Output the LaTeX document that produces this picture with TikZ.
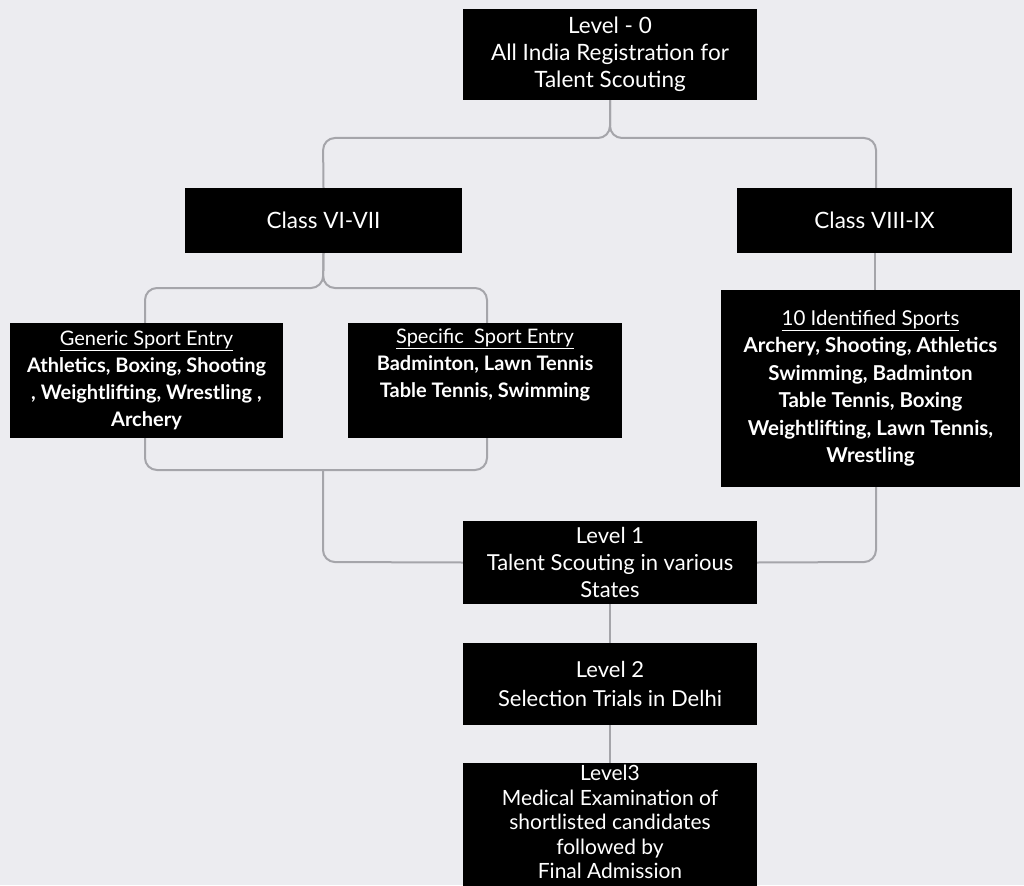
\documentclass[tikz,border=0pt]{standalone}
\usepackage{fontspec}
\setmainfont{Lato}
\usetikzlibrary{backgrounds}
\definecolor{paper}{RGB}{236,236,240}
\definecolor{linkgray}{RGB}{165,165,170}
\begin{document}
\begin{tikzpicture}[x=1pt,y=-1pt,
  box/.style={fill=black,text=white,align=center,inner sep=0pt,font=\fontsize{22.5}{27}\selectfont},
  link/.style={draw=linkgray,line width=2pt,rounded corners=12pt}]
\useasboundingbox (0,0) rectangle (1024,885);

\node[box,minimum width=294pt,minimum height=91pt] (L0) at (610,54.5)
  {Level - 0\\All India Registration for\\Talent Scouting};
\node[box,minimum width=277pt,minimum height=65pt] (VI) at (323.5,220.5) {Class VI-VII};
\node[box,minimum width=275pt,minimum height=65pt] (VIII) at (874.5,220.5) {Class VIII-IX};
\node[box,font=\fontsize{20}{27}\selectfont,minimum width=273pt,minimum height=115pt] (Gen) at (146.5,380.5)
  {\underline{Generic Sport Entry}\\\textbf{Athletics, Boxing, Shooting}\\\textbf{, Weightlifting, Wrestling ,}\\\textbf{Archery}};
\node[box,font=\fontsize{20}{27}\selectfont,minimum width=274pt,minimum height=115pt] (Spec) at (485,380.5)
  {\underline{Specific\ \ Sport Entry}\\\textbf{Badminton, Lawn Tennis}\\\textbf{Table Tennis, Swimming}\\ \strut};
\node[box,font=\fontsize{20.5}{27.5}\selectfont,minimum width=299pt,minimum height=197pt] (ID) at (870.5,388.5)
  {\underline{10 Identified Sports}\\\textbf{Archery, Shooting, Athletics}\\\textbf{Swimming, Badminton}\\\textbf{Table Tennis, Boxing}\\\textbf{Weightlifting, Lawn Tennis,}\\\textbf{Wrestling}};
\node[box,font=\fontsize{22}{27}\selectfont,minimum width=294pt,minimum height=83pt] (L1) at (610,562.5)
  {Level 1\\Talent Scouting in various\\States};
\node[box,font=\fontsize{22}{29}\selectfont,minimum width=294pt,minimum height=82pt] (L2) at (610,684)
  {Level 2\\Selection Trials in Delhi};
\node[box,minimum width=294pt,minimum height=118pt,font=\fontsize{21}{24.5}\selectfont] (L3) at (610,822)
  {Level3\\Medical Examination of\\shortlisted candidates\\followed by\\Final Admission};
\fill[black] (L3.south west) rectangle ([yshift=-10pt]L3.south east);

\begin{scope}[on background layer]
  \fill[paper] (0,0) rectangle (1024,885);
  \draw[link] (L0.south) -- (610,138) -- (323,138) -- (VI.north);
  \draw[link] (L0.south) -- (610,138) -- (876,138) -- (876,188);
  \draw[link] (VI.south) -- (323,288) -- (145,288) -- (145,323);
  \draw[link] (VI.south) -- (323,288) -- (487,288) -- (487,323);
  \draw[link] (145,438) -- (145,470) -- (487,470) -- (487,438);
  \draw[link] (323,470) -- (323,562) -- (L1.west);
  \draw[link] (VIII.south) -- (ID.north -| VIII.south);
  \draw[link] (876,487) -- (876,562) -- (L1.east);
  \draw[link] (L1.south) -- (L2.north);
  \draw[link] (L2.south) -- (L3.north);
\end{scope}
\end{tikzpicture}
\end{document}
